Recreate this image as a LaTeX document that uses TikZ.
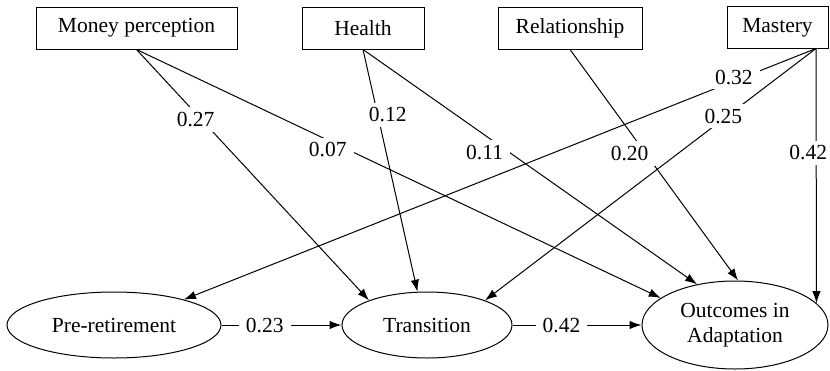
\documentclass[tikz,border=0pt]{standalone}
\usepackage{fontspec}
\setmainfont{Liberation Serif}
\usetikzlibrary{arrows.meta,shapes.geometric}
\begin{document}
\begin{tikzpicture}[x=1pt,y=-1pt,
  every node/.style={font=\fontsize{21.5}{25}\selectfont},
  box/.style={draw,line width=1pt,rectangle,minimum height=42pt,inner sep=0pt},
  oval/.style={draw,line width=1pt,ellipse,inner sep=0pt,align=center},
  conn/.style={line width=1pt,-{Latex[length=12pt,width=8.5pt]}},
  coef/.style={fill=white,inner xsep=7pt,inner ysep=5pt}]
\useasboundingbox (0,0) rectangle (830,370);
\node[box,minimum width=201pt] (money) at (136.5,28) {Money perception};
\node[box,minimum width=122pt] (health) at (363,28) {Health};
\node[box,minimum width=144pt] (rel) at (570,28) {Relationship};
\node[box,minimum width=101pt] (mast) at (777.5,27.5) {Mastery};
\coordinate (mfoot) at (816,48.5);
\node[oval,minimum width=214pt,minimum height=66pt] (pre) at (114,325) {Pre-retirement};
\node[oval,minimum width=170pt,minimum height=66pt] (trans) at (427,325) {Transition};
\node[oval,minimum width=186pt,minimum height=88pt] (out) at (735,325) {Outcomes in\\Adaptation};
\draw[conn] (money.south) -- node[coef,pos=0.28,xshift=-6pt] {0.27} (trans.157);
\draw[conn] (money.south) -- node[coef,pos=0.38,xshift=-8pt,yshift=-6pt] {0.07} (out.160);
\draw[conn] (health.south) -- node[coef,pos=0.27,xshift=10pt] {0.12} (trans.106);
\draw[conn] (health.south) -- node[coef,pos=0.37,xshift=-2pt,yshift=-16pt] {0.11} (out.133);
\draw[conn] (rel.south) -- node[coef,pos=0.45,xshift=-16pt] {0.20} (out.86);
\draw[conn] (mfoot) -- node[coef,pos=0.13,yshift=4pt] {0.32} (pre.20);
\draw[conn] (mfoot) -- node[coef,pos=0.28,yshift=3pt] {0.25} (trans.23);
\draw[conn] (mfoot) -- node[coef,pos=0.41,xshift=-8pt] {0.42} (out.15);
\draw[conn] (pre.east) -- node[coef,pos=0.36] {0.23} (trans.west);
\draw[conn] (trans.east) -- node[coef,pos=0.38] {0.42} (out.west);
\end{tikzpicture}
\end{document}
